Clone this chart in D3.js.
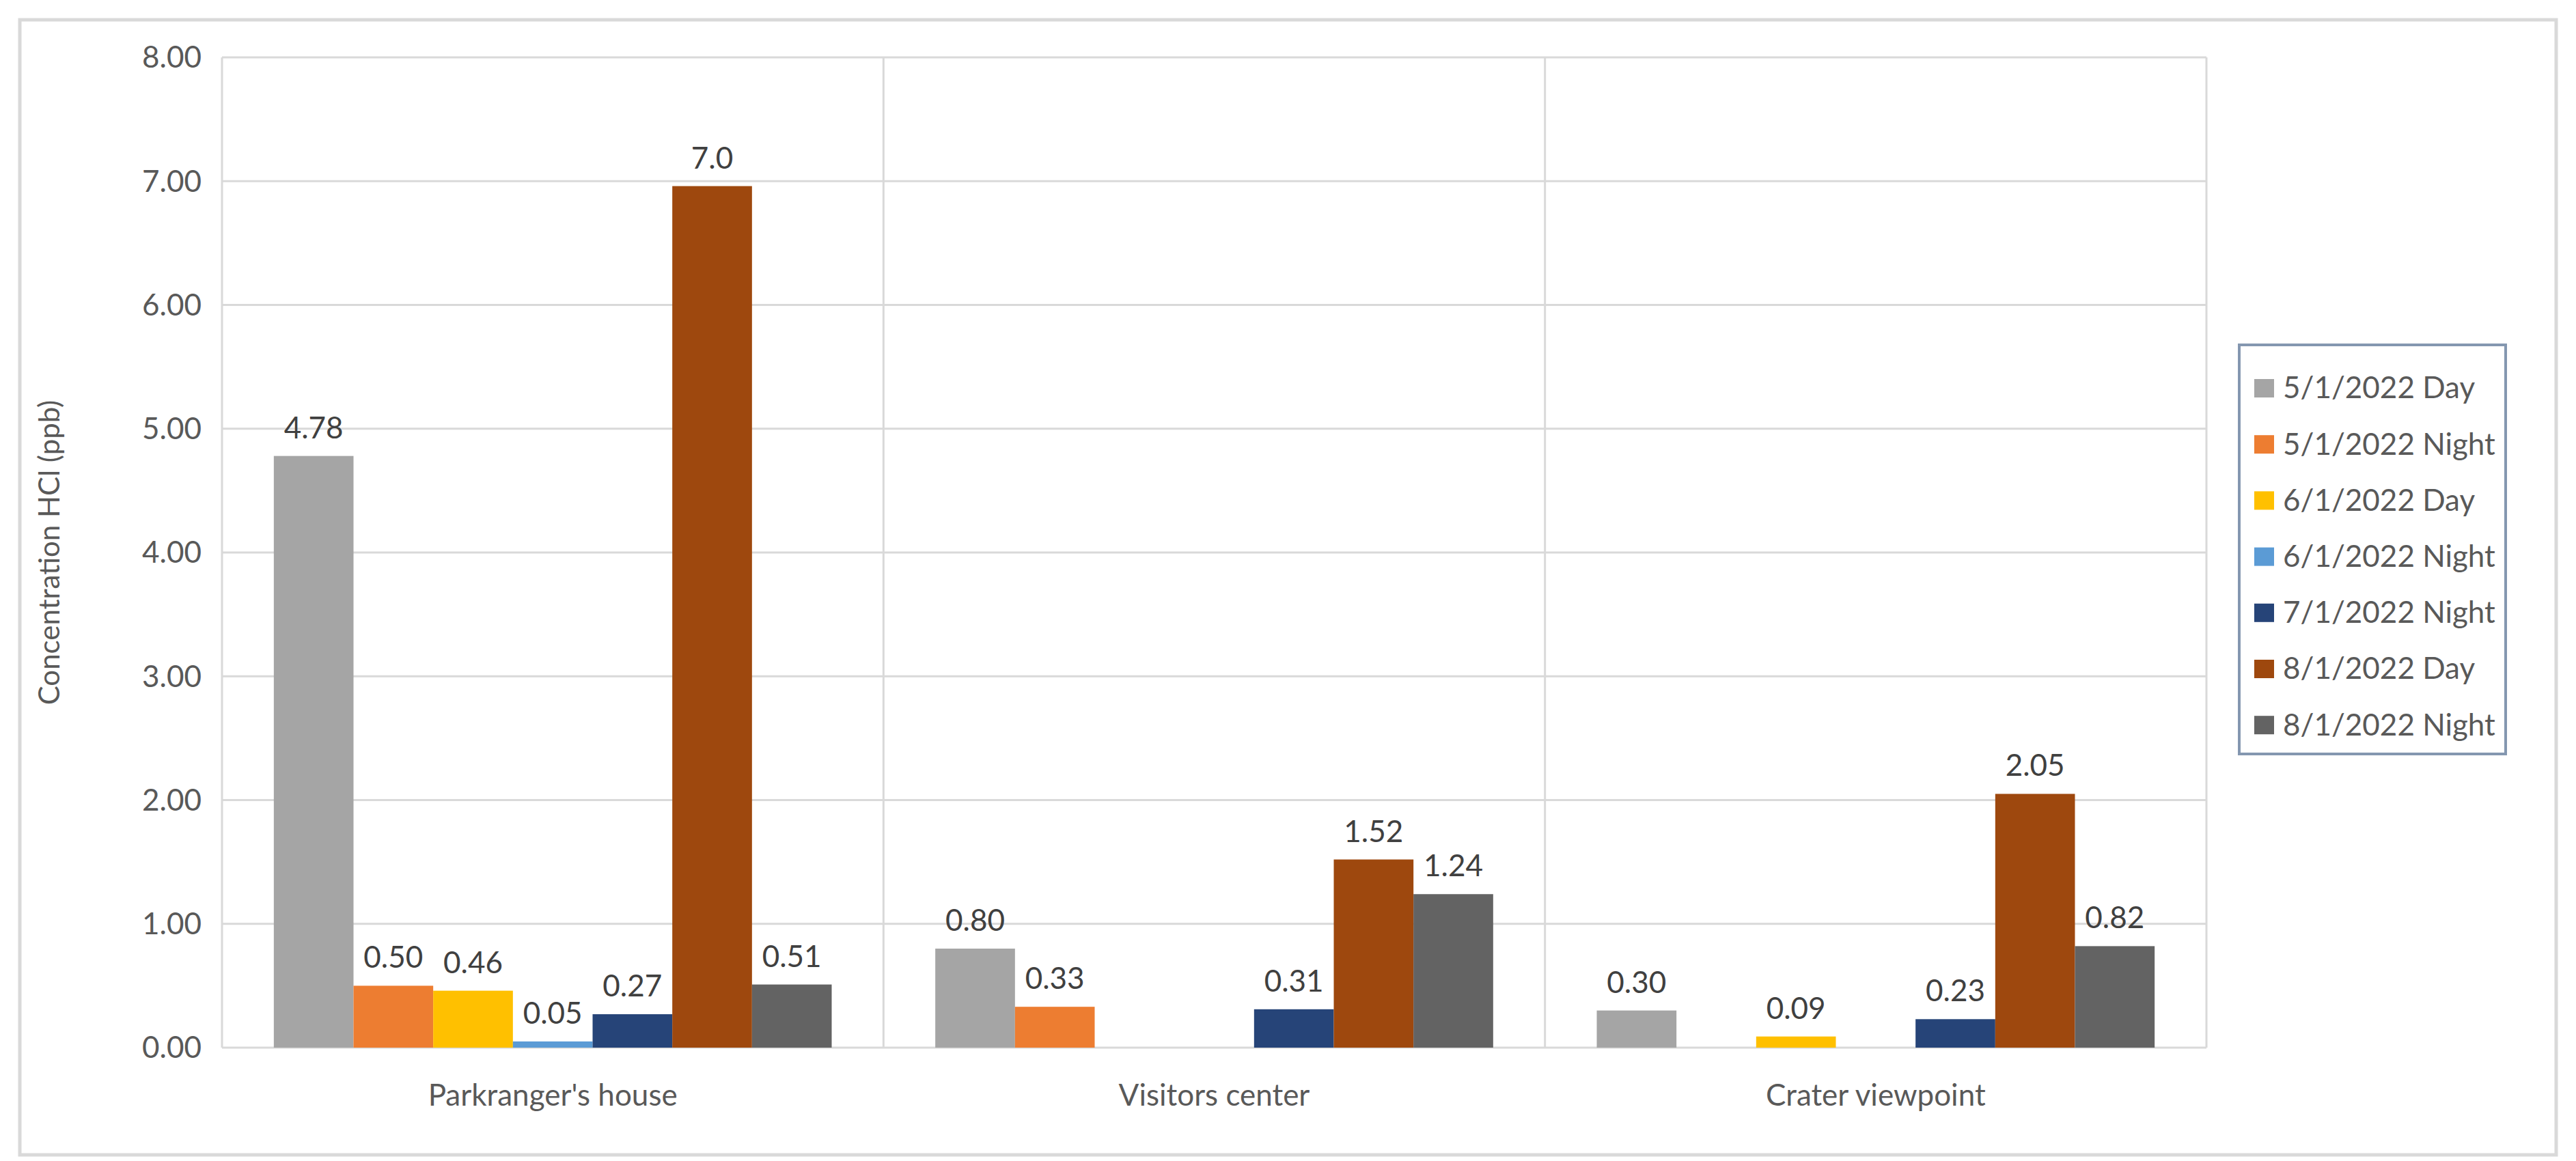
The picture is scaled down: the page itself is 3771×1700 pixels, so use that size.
<!DOCTYPE html><html><head><meta charset="utf-8"><script src="https://cdn.jsdelivr.net/npm/d3@7"></script>
<style>body{margin:0;background:#fff}text{font-family:Lato,"Open Sans",sans-serif;fill:#595959}</style></head><body><svg id="c" width="3771" height="1700"></svg><script>
const categories=["Parkranger's house","Visitors center","Crater viewpoint"];
const series=["5/1/2022 Day","5/1/2022 Night","6/1/2022 Day","6/1/2022 Night","7/1/2022 Night","8/1/2022 Day","8/1/2022 Night"];
const colors=["#A5A5A5","#ED7D31","#FFC000","#5B9BD5","#264478","#9E480E","#636363"];
const values=[[4.78,0.80,0.30],[0.50,0.33,null],[0.46,null,0.09],[0.05,null,null],[0.27,0.31,0.23],[6.96,1.52,2.05],[0.51,1.24,0.82]];
const labels=[["4.78","0.80","0.30"],["0.50","0.33",""],["0.46","","0.09"],["0.05","",""],["0.27","0.31","0.23"],["7.0","1.52","2.05"],["0.51","1.24","0.82"]];
const yTicks=[0,1,2,3,4,5,6,7,8];
const svg=d3.select("#c");
const L=325,R=3230,T=84,B=1534;
svg.append("rect").attr("x",29).attr("y",29).attr("width",3713).attr("height",1662).attr("fill","#fff").attr("stroke","#d9d9d9").attr("stroke-width",5);
const x=d3.scaleBand().domain(categories).range([L,R]);
const y=d3.scaleLinear().domain([0,8]).range([B,T]);
const bw=x.bandwidth()/8.3;
const x1=d3.scaleBand().domain(d3.range(7)).range([0,bw*7]);
const off=(x.bandwidth()-bw*7)/2;
yTicks.forEach(t=>{svg.append("line").attr("x1",L).attr("x2",R).attr("y1",y(t)).attr("y2",y(t)).attr("stroke","#d9d9d9").attr("stroke-width",3);
svg.append("text").attr("x",L-30).attr("y",y(t)).attr("dy","0.35em").attr("text-anchor","end").attr("font-size",44).text(t.toFixed(2));});
[L,x(categories[1]),x(categories[2]),R].forEach(v=>svg.append("line").attr("x1",v).attr("x2",v).attr("y1",T).attr("y2",B).attr("stroke","#d9d9d9").attr("stroke-width",3));
series.forEach((s,i)=>{categories.forEach((c,j)=>{const v=values[i][j];if(v==null)return;
const bx=x(c)+off+x1(i);
svg.append("rect").attr("x",bx).attr("y",y(v)).attr("width",bw).attr("height",y(0)-y(v)).attr("fill",colors[i]);
svg.append("text").attr("x",bx+bw/2).attr("y",y(v)-26).attr("text-anchor","middle").attr("font-size",44).style("fill","#404040").text(labels[i][j]);});});
categories.forEach(c=>svg.append("text").attr("x",x(c)+x.bandwidth()/2).attr("y",1604).attr("dy","0.35em").attr("text-anchor","middle").attr("font-size",44).text(c));
svg.append("text").attr("transform","translate(72,"+((T+B)/2)+") rotate(-90)").attr("text-anchor","middle").attr("dy","0.35em").attr("font-size",42).text("Concentration HCl (ppb)");
svg.append("rect").attr("x",3278).attr("y",505).attr("width",390).attr("height",599).attr("fill","#fff").attr("stroke","#8497B0").attr("stroke-width",4);
series.forEach((s,i)=>{const cy=568+i*82.2;
svg.append("rect").attr("x",3300).attr("y",cy-13).attr("width",29).attr("height",27).attr("fill",colors[i]);
svg.append("text").attr("x",3342).attr("y",cy).attr("dy","0.35em").attr("font-size",44).text(s);});
</script></body></html>
